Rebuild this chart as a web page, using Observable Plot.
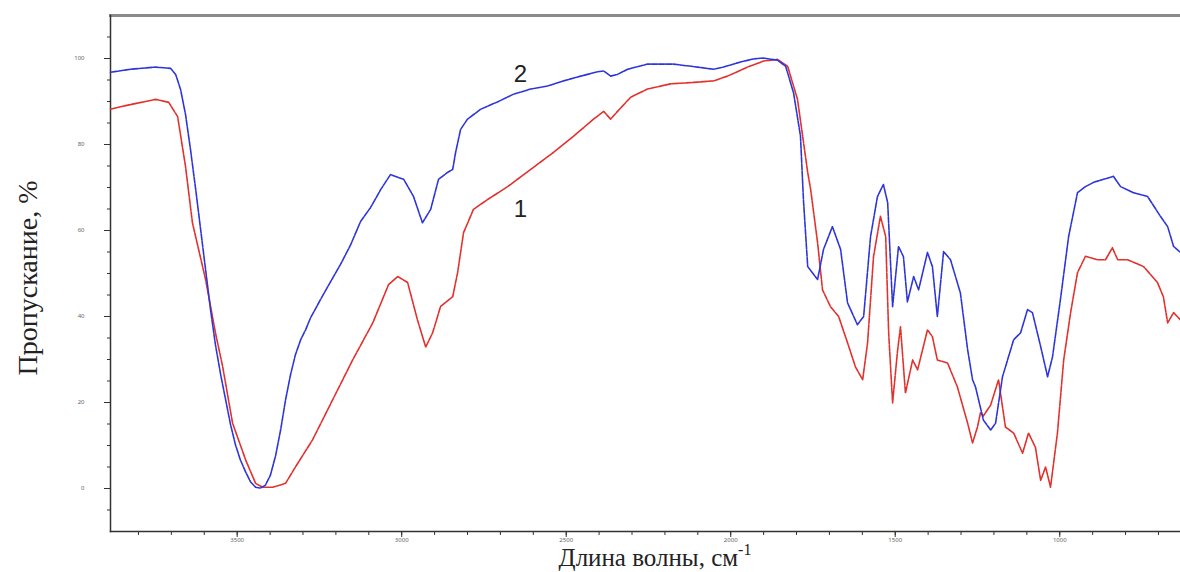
<!DOCTYPE html>
<html><head><meta charset="utf-8">
<script src="https://cdn.jsdelivr.net/npm/d3@7"></script>
<script src="https://cdn.jsdelivr.net/npm/@observablehq/plot@0.6"></script>
<style>body{margin:0;background:#fff}</style>
</head><body><div id="chart"></div>
<script>
// Curve 2 (blue): wavenumber, transmittance %
const wn2 = [3885,3824,3748,3702,3687,3672,3657,3642,3626,3611,3596,3581,3566,3550,3535,3520,3505,3490,3474,3459,3444,3429,3414,3399,3383,3368,3353,3338,3323,3307,3292,3277,3247,3216,3186,3155,3125,3095,3064,3034,2994,2964,2937,2912,2888,2861,2845,2836,2821,2800,2760,2709,2660,2608,2557,2508,2456,2405,2386,2365,2344,2313,2253,2174,2101,2052,2022,1970,1931,1900,1858,1833,1809,1788,1779,1766,1736,1718,1691,1666,1645,1615,1596,1575,1554,1536,1523,1508,1490,1475,1463,1444,1429,1402,1387,1372,1353,1332,1302,1280,1265,1256,1232,1210,1195,1174,1140,1119,1098,1083,1058,1037,1022,998,973,946,922,897,837,815,776,733,694,672,654,633];
const t2 = [96.8,97.5,98.0,97.7,96.3,92.8,87.0,78.9,69.5,60.2,50.9,41.6,33.4,26.4,20.6,14.8,10.1,6.6,3.8,1.5,0.3,0.1,0.8,3.1,7.7,13.6,20.6,26.4,31.1,34.6,36.9,39.7,43.9,48.1,52.1,56.7,62.1,65.3,69.5,73.0,71.9,67.9,61.8,64.9,71.9,73.5,74.2,78.2,83.5,85.9,88.2,89.9,91.7,92.9,93.6,94.8,95.9,96.9,97.1,95.9,96.3,97.5,98.7,98.7,98.0,97.5,98.0,99.2,99.9,100.1,99.6,98.2,92.0,82.0,67.2,51.6,48.6,55.6,60.9,55.6,43.2,38.1,40.0,58.6,67.9,70.7,66.5,42.3,56.3,53.9,43.4,49.3,46.2,54.9,51.6,40.0,55.1,53.2,45.5,32.3,25.3,23.6,15.9,13.6,15.2,26.0,34.6,36.2,41.6,40.9,33.0,26.0,30.6,43.9,58.6,68.8,70.2,71.2,72.6,70.2,68.8,67.9,63.3,60.9,56.3,54.9];
// Curve 1 (red)
const wn1 = [3885,3848,3748,3708,3681,3657,3636,3596,3566,3544,3514,3474,3444,3423,3392,3353,3323,3271,3210,3149,3088,3040,3012,2982,2952,2927,2906,2882,2845,2830,2812,2782,2739,2678,2608,2538,2478,2417,2386,2365,2344,2304,2253,2183,2101,2052,2010,1949,1900,1858,1827,1797,1766,1757,1736,1721,1697,1672,1645,1621,1599,1584,1566,1545,1529,1520,1508,1493,1484,1469,1447,1432,1402,1387,1372,1341,1311,1280,1265,1250,1241,1232,1210,1186,1165,1140,1113,1095,1074,1058,1043,1028,1007,988,967,946,922,885,861,840,824,794,745,703,685,672,654,633];
const t1 = [88.2,88.9,90.5,89.8,86.5,74.9,61.8,48.6,36.2,28.3,15.2,6.6,1.2,0.3,0.3,1.2,5.0,11.3,20.6,29.9,38.5,47.4,49.3,47.9,39.2,32.9,36.2,42.3,44.6,50.2,59.5,64.9,67.2,70.2,74.2,78.2,81.9,85.9,87.7,85.9,87.7,91.0,92.9,94.1,94.5,94.8,95.9,98.0,99.4,99.8,98.2,90.5,73.5,69.5,57.2,46.2,42.3,40.0,33.9,28.3,25.3,33.9,53.9,63.3,58.6,36.2,19.9,32.0,37.6,22.2,29.9,27.6,36.9,35.3,29.9,29.2,23.6,15.2,10.6,14.3,17.6,16.9,19.4,25.3,14.3,12.9,8.2,12.9,9.6,1.9,5.0,0.3,12.9,29.9,40.9,50.2,54.0,53.2,53.2,56.0,53.2,53.2,51.6,47.9,44.6,38.5,40.9,39.2];

const xMajor = [3500,3000,2500,2000,1500,1000];
const xMinor = d3.range(700, 3900, 100);
const yMajor = [0,20,40,60,80,100];
const yMinor = d3.range(-5, 110, 5);
const curveLabels = [{wn: 2639, t: 96.3, text: "2"}, {wn: 2639, t: 64.9, text: "1"}];

const s1 = wn1.map((w, i) => ({wn: w, t: t1[i]}));
const s2 = wn2.map((w, i) => ({wn: w, t: t2[i]}));

const chart = Plot.plot({
  width: 1180, height: 572,
  marginLeft: 110, marginRight: 0, marginTop: 15, marginBottom: 41,
  x: {domain: [3885, 633]},
  y: {domain: [-10, 110]},
  style: {background: "#fff"},
  marks: [
    Plot.frame({anchor: "top", stroke: "#8a8a8a", strokeWidth: 3}),
    Plot.frame({anchor: "left", stroke: "#333", strokeWidth: 1.5}),
    Plot.frame({anchor: "bottom", stroke: "#333", strokeWidth: 1.5}),
    Plot.axisX({ticks: xMinor, tickSize: 4, text: null, stroke: "#333", label: null}),
    Plot.axisX({ticks: xMajor, tickSize: 6, tickPadding: 0, fontSize: 6, fill: "#666", stroke: "#333", label: null, tickFormat: d => String(d)}),
    Plot.axisY({ticks: yMinor, tickSize: 3, text: null, stroke: "#333", label: null}),
    Plot.axisY({ticks: yMajor, tickSize: 6, tickPadding: 20, fontSize: 6, fill: "#666", stroke: "#333", label: null}),
    Plot.line(s1, {x: "wn", y: "t", stroke: "#e2302c", strokeWidth: 1.6, strokeDasharray: "6,1.2"}),
    Plot.line(s2, {x: "wn", y: "t", stroke: "#2d35da", strokeWidth: 1.6, strokeDasharray: "6,1.2"}),
    Plot.text(curveLabels, {x: "wn", y: "t", text: "text", fontSize: 24, fill: "#222", fontFamily: "Liberation Sans, Arial, sans-serif"})
  ]
});
const svg = d3.select(chart);
svg.append("text")
  .attr("transform", "translate(37,278) rotate(-90)")
  .attr("text-anchor", "middle")
  .attr("font-family", "Liberation Serif, Times New Roman, serif")
  .attr("font-size", 28).attr("fill", "#222")
  .text("Пропускание, %");
const xt = svg.append("text")
  .attr("x", 655).attr("y", 566)
  .attr("text-anchor", "middle")
  .attr("font-family", "Liberation Serif, Times New Roman, serif")
  .attr("font-size", 25).attr("fill", "#222");
xt.append("tspan").text("Длина волны, см");
xt.append("tspan").attr("dy", -11).attr("font-size", 16).text("-1");
document.getElementById("chart").appendChild(chart);
</script></body></html>
